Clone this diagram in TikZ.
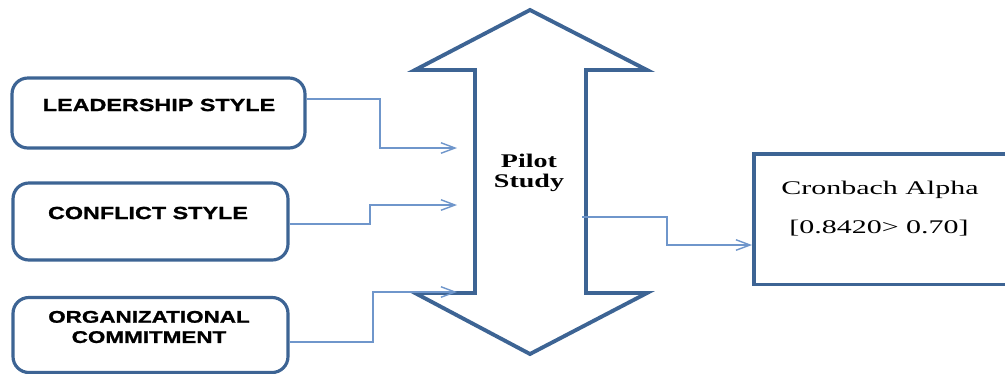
\documentclass[tikz,border=0pt]{standalone}
\usepackage{fontspec}
\setmainfont{Liberation Serif}
\newfontfamily\boxfont[FakeStretch=1.33,FakeBold=1.2]{Liberation Sans}
\newfontfamily\pilotfont[FakeStretch=1.45]{Liberation Serif}
\newfontfamily\cronfont[FakeStretch=1.55]{Liberation Serif}
\usetikzlibrary{arrows.meta}
\definecolor{boxblue}{HTML}{3D6494}
\definecolor{linkblue}{HTML}{6F96CB}
\begin{document}
\begin{tikzpicture}[x=0.02cm,y=-0.02cm,
  inbox/.style={draw=boxblue,line width=1.8pt,rounded corners=9pt,inner sep=0pt},
  boxtext/.style={font=\boxfont\fontsize{10}{11.5}\selectfont\bfseries,align=center,inner sep=0pt},
  link/.style={draw=linkblue,line width=0.8pt,-{Straight Barb[length=8pt,width=6pt]}},
  outbox/.style={draw=boxblue,line width=2pt,inner sep=0pt},
  bigarrow/.style={draw=boxblue,line width=2.2pt,line join=miter}]
\useasboundingbox (0,0) rectangle (1005,373);
\fill[white] (0,0) rectangle (1005,373);
% input boxes
\node[inbox,minimum width=5.86cm,minimum height=1.4cm] (b1) at (158.5,113) {};
\node[boxtext] (t1) at (159,105) {LEADERSHIP STYLE};
\node[inbox,minimum width=5.5cm,minimum height=1.54cm] (b2) at (150.5,221.5) {};
\node[boxtext] (t2) at (148,213) {CONFLICT STYLE};
\node[inbox,minimum width=5.5cm,minimum height=1.5cm] (b3) at (150.5,335) {};
\node[boxtext,font=\boxfont\fontsize{9.6}{11.5}\selectfont\bfseries] (t3) at (149,327) {ORGANIZATIONAL\\COMMITMENT};
% double arrow
\draw[bigarrow] (530,10) -- (647,70) -- (586,70) -- (586,293) -- (647,293) -- (530,354)
  -- (415,293) -- (475,293) -- (475,70) -- (415,70) -- cycle;
\node[font=\pilotfont\fontsize{11}{11.5}\selectfont\bfseries,align=center,inner sep=0pt] (pilot) at (529,173) {Pilot\\Study};
\coordinate (p1) at (457,148);
\coordinate (p2) at (457,205);
\coordinate (p3) at (457,292);
\coordinate (pout) at (582,217);
% output box
\node[outbox,minimum width=5.4cm,minimum height=2.62cm,anchor=north west] (cb) at (752,152) {};
\node[font=\cronfont\fontsize{11}{22}\selectfont,inner sep=0pt] (ct1) at (880,190) {Cronbach Alpha};
\node[font=\cronfont\fontsize{11}{22}\selectfont,inner sep=0pt] (ct2) at (879,228) {[0.8420> 0.70]};
% connectors
\draw[link] (b1.east |- 0,99) -| (380,148) -- (p1);
\draw[link] (b2.east |- 0,224) -| (370,205) -- (p2);
\draw[link] (b3.east |- 0,342) -| (373,292) -- (p3);
\draw[link] (pout) -| (667,245) -- (cb.west |- 0,245);
\end{tikzpicture}
\end{document}
